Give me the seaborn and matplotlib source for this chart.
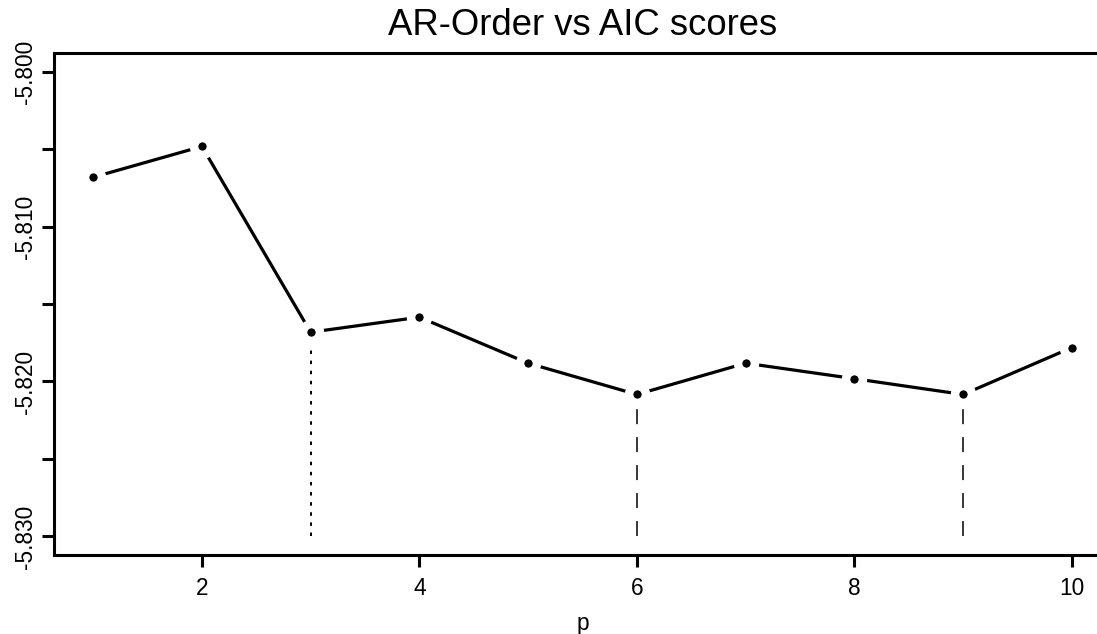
import matplotlib
matplotlib.use("Agg")
import matplotlib.pyplot as plt
import seaborn as sns
import pandas as pd
import numpy as np

# Data
p_order = [1, 2, 3, 4, 5, 6, 7, 8, 9, 10]
aic_scores = [-5.80682, -5.80483, -5.81682, -5.81585, -5.81882,
              -5.82084, -5.81882, -5.81982, -5.82084, -5.81781]
dotted_orders = [3]
dashed_orders = [6, 9]
x_ticks = [2, 4, 6, 8, 10]
y_ticks = [-5.800, -5.805, -5.810, -5.815, -5.820, -5.825, -5.830]
y_labels = ["-5.800", "", "-5.810", "", "-5.820", "", "-5.830"]
title = "AR-Order vs AIC scores"
x_label = "p"

sns.set_theme(style="white")
plt.rcParams["font.family"] = ["Liberation Sans", "DejaVu Sans"]
plt.rcParams["text.color"] = "black"
plt.rcParams["axes.labelcolor"] = "black"

df = pd.DataFrame({"p": p_order, "aic": aic_scores})

fig = plt.figure(figsize=(10.97, 6.34), dpi=100)
ax = fig.add_axes([54 / 1097, 79 / 634, 1057 / 1097, 502 / 634])

# vertical reference lines (drawn from floor up to point)
floor = -5.830
for xv in dotted_orders:
    yv = aic_scores[p_order.index(xv)]
    ax.plot([xv, xv], [floor, yv], color="black", lw=1.4,
            linestyle=(0, (1.8, 3.4)), zorder=1, dash_capstyle="butt")
for xv in dashed_orders:
    yv = aic_scores[p_order.index(xv)]
    ax.plot([xv, xv], [floor, yv], color="black", lw=1.1,
            linestyle=(0, (9.8, 8.5)), zorder=1, dash_capstyle="butt")

sns.lineplot(data=df, x="p", y="aic", ax=ax, color="black", lw=2.3,
             marker="o", markersize=12.2, markerfacecolor="black",
             markeredgecolor="white", markeredgewidth=6.1, zorder=3)

ax.set_xlim(0.64, 10.36)
ax.set_ylim(-5.8312, -5.7988)
ax.set_xticks(x_ticks)
ax.set_xticklabels([str(t) for t in x_ticks])
ax.set_yticks(y_ticks)
ax.set_yticklabels(y_labels, rotation=90, va="center")

ax.tick_params(axis="both", which="major", direction="out", length=8.5,
               width=2.2, color="black", labelcolor="black", labelsize=16.3,
               bottom=True, left=True, top=False, right=False)
ax.tick_params(axis="x", pad=7.5)
ax.tick_params(axis="y", pad=3.5)
for side in ["left", "bottom", "top"]:
    ax.spines[side].set_linewidth(2.2)
    ax.spines[side].set_color("black")
ax.spines["right"].set_visible(False)

ax.set_xlabel(x_label, fontsize=16.3, labelpad=8.5, color="black")
ax.set_ylabel("")
ax.set_title(title, fontsize=26.3, pad=13, color="black")

fig.savefig("out.png", dpi=100, facecolor="white")
